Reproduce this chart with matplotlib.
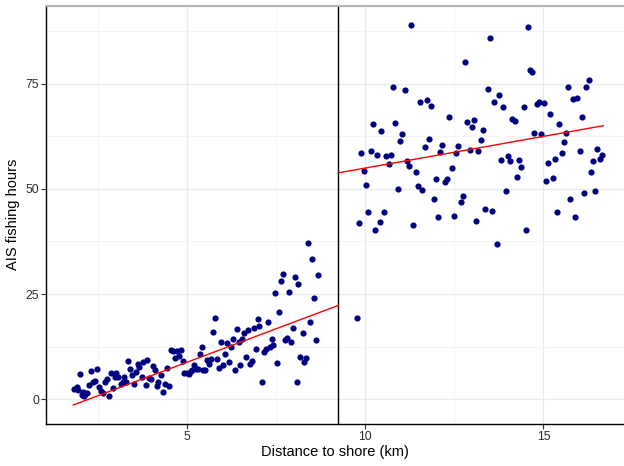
import numpy as np
import matplotlib
matplotlib.use("Agg")
import matplotlib.pyplot as plt

plt.rcParams['font.family'] = ['Liberation Sans', 'DejaVu Sans']

# Threshold distance separating the two regimes (km)
cutoff = 9.25

# Observations below the threshold: distance (km) and AIS fishing hours
near_km = [1.85, 1.91, 1.94, 2.01, 2.05, 2.10, 2.15, 2.21, 2.13, 2.27, 2.32, 2.38, 2.44,
           2.49, 2.54, 2.60, 2.64, 2.72, 2.76, 2.81, 2.87, 2.92, 2.98, 3.03, 3.08, 3.15,
           3.20, 3.25, 3.30, 3.36, 3.41, 3.46, 3.52, 3.58, 3.63, 3.67, 3.74, 3.78, 3.85,
           3.90, 3.95, 4.01, 4.06, 4.12, 4.17, 4.20, 4.27, 4.33, 4.39, 4.45, 4.50, 4.55,
           4.61, 4.66, 4.72, 4.77, 4.83, 4.89, 4.93, 5.00, 5.06, 5.11, 5.16, 5.20, 5.26,
           5.32, 5.37, 5.43, 5.47, 5.52, 5.58, 5.63, 5.69, 5.74, 5.79, 5.85, 5.90, 5.96,
           6.02, 6.07, 6.13, 6.18, 6.23, 6.29, 6.34, 6.40, 6.46, 6.50, 6.56, 6.61, 6.67,
           6.73, 6.78, 6.83, 6.89, 6.93, 6.99, 7.04, 7.10, 7.16, 7.21, 7.27, 7.33, 7.38,
           7.43, 7.48, 7.54, 7.60, 7.65, 7.71, 7.76, 7.81, 7.86, 7.91, 7.97, 8.03, 8.08,
           8.13, 8.19, 8.25, 8.30, 8.35, 8.40, 8.46, 8.51, 8.57, 8.62, 8.67]
near_hours = [2.44, 2.84, 2.21, 5.93, 1.10, 1.65, 1.18, 1.49, 0.86, 3.39, 6.72, 4.18, 4.42,
              7.27, 3.00, 2.05, 1.41, 4.18, 4.82, 0.86, 6.32, 2.60, 5.29, 6.16, 5.37, 3.63,
              4.18, 5.37, 4.03, 9.09, 7.11, 5.77, 3.63, 6.56, 8.38, 7.59, 5.21, 8.78, 3.39,
              9.41, 4.98, 4.74, 7.91, 6.96, 3.23, 4.18, 5.77, 1.65, 3.63, 7.43, 3.23, 11.71,
              11.55, 9.88, 11.55, 10.28, 11.71, 9.01, 6.16, 6.32, 5.93, 6.80, 6.96, 8.06, 7.11,
              7.11, 10.76, 12.50, 6.96, 6.96, 9.33, 8.38, 9.49, 15.90, 19.39, 9.65, 7.43, 13.61,
              8.14, 10.76, 13.37, 8.86, 12.34, 14.24, 6.96, 16.69, 13.69, 8.14, 14.32, 15.66, 9.96,
              16.46, 8.38, 9.09, 16.93, 12.02, 19.07, 17.49, 4.18, 11.15, 12.02, 18.28, 12.50, 14.40,
              12.97, 25.17, 8.70, 20.65, 28.02, 29.76, 14.08, 14.48, 25.48, 13.69, 16.85, 29.05, 4.18,
              27.46, 10.12, 15.74, 8.94, 9.73, 37.04, 18.28, 33.40, 24.06, 14.16, 29.52]

# Observations beyond the threshold
far_km = [9.78, 9.84, 9.90, 9.96, 10.03, 10.09, 10.16, 10.21, 10.28, 10.34, 10.41, 10.46,
          10.53, 10.60, 10.66, 10.73, 10.78, 10.85, 10.91, 10.97, 11.03, 11.11, 11.17, 11.23,
          11.29, 11.35, 11.42, 11.48, 11.54, 11.60, 11.67, 11.74, 11.79, 11.86, 11.92, 11.99,
          12.04, 12.11, 12.17, 12.24, 12.30, 12.36, 12.43, 12.49, 12.55, 12.61, 12.68, 12.74,
          12.80, 12.87, 12.93, 13.00, 13.06, 13.12, 13.18, 13.25, 13.31, 13.37, 13.44, 13.49,
          13.56, 13.62, 13.69, 13.75, 13.81, 13.88, 13.94, 14.00, 14.06, 14.13, 14.19, 14.25,
          14.32, 14.38, 14.45, 14.50, 14.57, 14.63, 14.69, 14.75, 14.82, 14.89, 14.94, 15.01,
          15.07, 15.14, 15.19, 15.26, 15.32, 15.38, 15.45, 15.51, 15.58, 15.64, 15.70, 15.76,
          15.83, 15.89, 15.95, 16.02, 16.08, 16.15, 16.20, 16.27, 16.33, 16.39, 16.46, 16.51,
          16.58, 16.64]
far_hours = [19.39, 41.96, 58.51, 54.15, 50.99, 44.42, 58.90, 65.32, 40.22, 58.11, 42.12, 63.81,
             44.49, 57.79, 55.98, 58.03, 74.11, 65.71, 49.96, 61.28, 63.10, 73.39, 56.53, 55.50,
             88.99, 41.49, 54.00, 50.75, 70.62, 49.64, 60.01, 71.18, 61.91, 69.67, 47.58, 52.25,
             43.39, 58.67, 60.33, 51.62, 52.25, 67.06, 54.87, 43.54, 58.43, 60.09, 46.79, 48.37,
             80.20, 65.95, 59.14, 64.68, 66.27, 42.28, 58.90, 61.67, 63.97, 45.21, 73.79, 85.90,
             44.73, 70.70, 36.81, 72.28, 56.85, 69.51, 49.48, 57.72, 56.53, 66.66, 66.11, 52.89,
             56.85, 55.26, 69.51, 40.30, 88.36, 78.14, 77.67, 63.34, 70.07, 70.54, 63.02, 70.38,
             51.78, 56.13, 67.77, 52.49, 57.00, 44.49, 65.48, 58.43, 61.20, 63.34, 74.26, 47.50,
             71.34, 43.31, 71.65, 58.90, 67.06, 49.01, 74.11, 75.93, 53.92, 56.53, 49.56, 59.38,
             57.08, 57.95]

# Linear fit coefficients (intercept, slope) on each side of the threshold
fit_near = (-7.14, 3.183)
fit_far = (39.86, 1.507)

x_ticks = [5, 10, 15]
y_ticks = [0, 25, 50, 75]

fig = plt.figure(figsize=(6.24, 4.66), dpi=100)
ax = fig.add_axes([0.0742, 0.0908, 0.9258, 0.8972])

# Grid: major and minor lines in light grey
ax.set_xticks(x_ticks)
ax.set_yticks(y_ticks)
ax.set_xticks([2.5, 7.5, 12.5], minor=True)
ax.set_yticks([12.5, 37.5, 62.5, 87.5], minor=True)
ax.set_xlim(1.063, 17.26)
ax.set_ylim(-5.8, 93.54)

ax.grid(which='major', color='#ebebeb', linewidth=1.0, zorder=0)
ax.grid(which='minor', color='#f3f3f3', linewidth=0.6, zorder=0)
ax.tick_params(which='minor', length=0)
ax.tick_params(which='major', length=3.3, width=0.8, color='#333333',
               labelsize=8.8, labelcolor='#2b2b2b', pad=2)
ax.set_axisbelow(True)

ax.spines['right'].set_visible(False)
ax.spines['top'].set_color('#b3b3b3')
ax.spines['top'].set_linewidth(1.5)
for side in ['left', 'bottom']:
    ax.spines[side].set_color('black')
    ax.spines[side].set_linewidth(1.0)

ax.scatter(near_km, near_hours, s=20, color='#000080', linewidths=0, zorder=3)
ax.scatter(far_km, far_hours, s=20, color='#000080', linewidths=0, zorder=3)

# Fitted lines, each extended to the cutoff
xs_near = np.array([min(near_km) - 0.03, cutoff])
ax.plot(xs_near, fit_near[0] + fit_near[1] * xs_near, color='red', linewidth=1.0, zorder=4)

xs_far = np.array([cutoff, max(far_km) + 0.04])
ax.plot(xs_far, fit_far[0] + fit_far[1] * xs_far, color='red', linewidth=1.0, zorder=4)

ax.axvline(cutoff, color='black', linewidth=1.0, zorder=2)

ax.set_xlabel('Distance to shore (km)', fontsize=10.5, labelpad=1.5)
ax.set_ylabel('AIS fishing hours', fontsize=10.5, labelpad=3.5)

fig.savefig('out.png', dpi=100)
